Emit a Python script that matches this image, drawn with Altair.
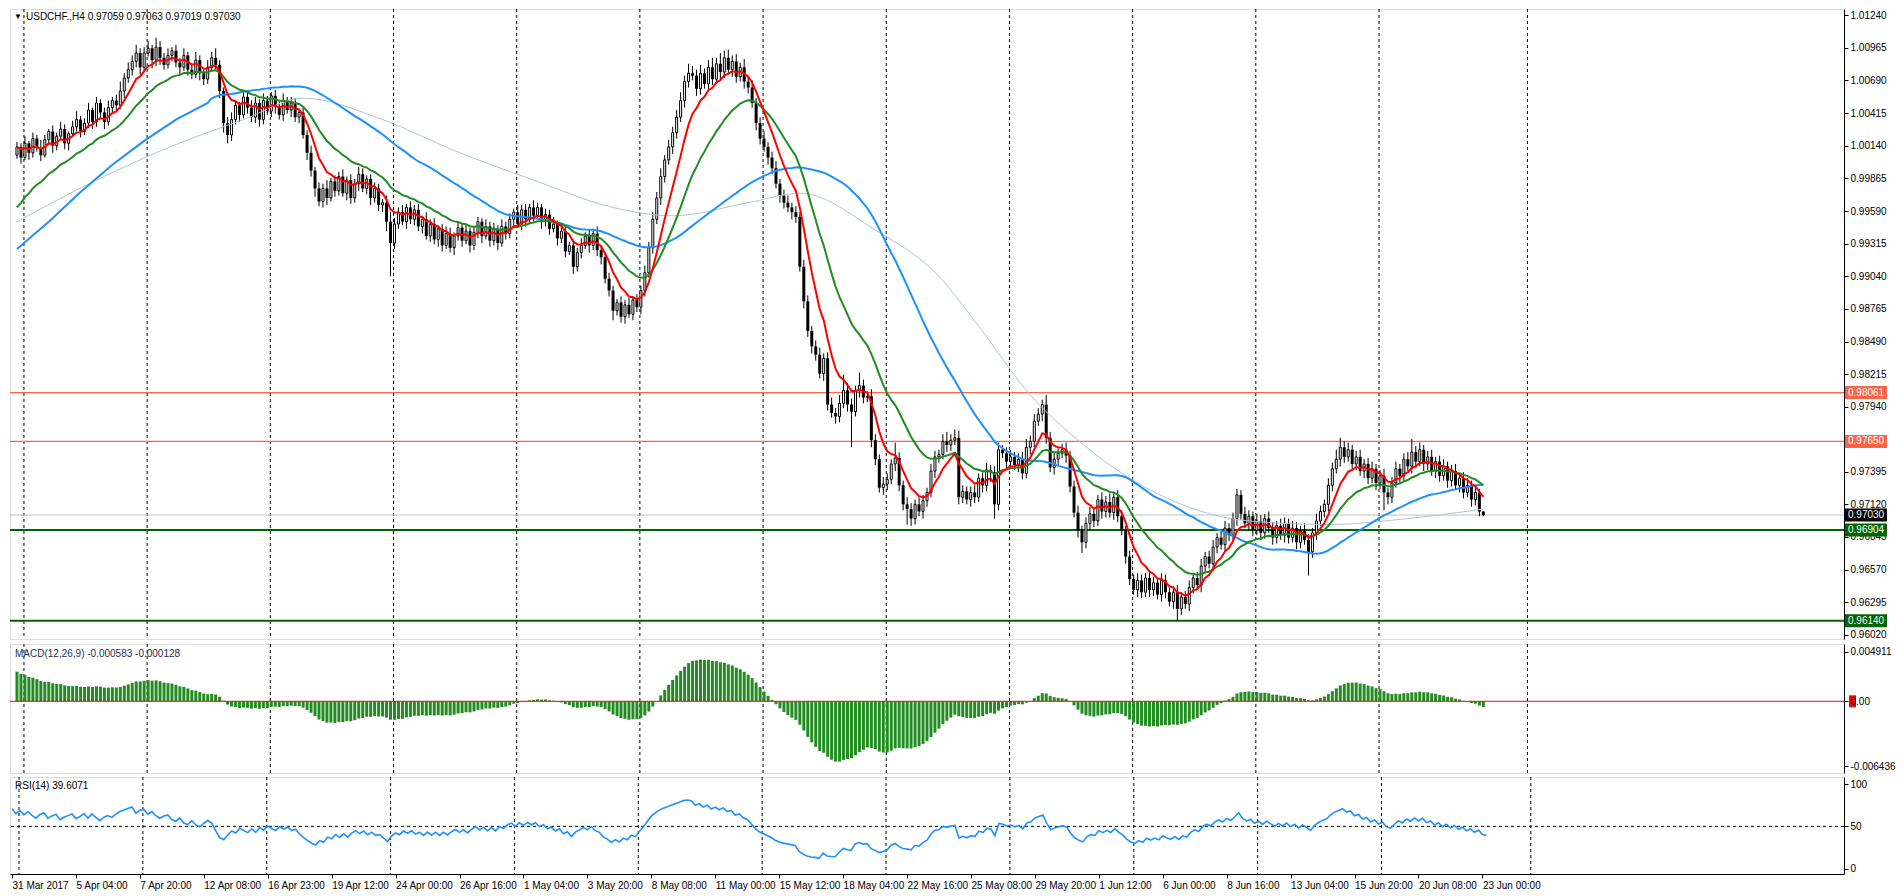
import json
import altair as alt
import numpy as np
import pandas as pd

# ---------------- data (prices in pips, 1 pip = 0.0001) ----------------
close = [
10013, 10004, 10016, 10008, 10020, 10012, 10006, 10019, 10026, 10014,
10022, 10028, 10016, 10024, 10030, 10036, 10026, 10033, 10044, 10034,
10050, 10042, 10034, 10046, 10052, 10048, 10060, 10071, 10078, 10085,
10092, 10080, 10092, 10096, 10086, 10097, 10088, 10082, 10090, 10094,
10084, 10080, 10090, 10078, 10074, 10086, 10075, 10070, 10080, 10088,
10082, 10060, 10033, 10023, 10036, 10048, 10040, 10055, 10046, 10038,
10050, 10036, 10052, 10043, 10056, 10047, 10040, 10052, 10044, 10050,
10038, 10042, 10023, 10008, 9993, 9978, 9967, 9978, 9970, 9984,
9976, 9988, 9974, 9985, 9970, 9982, 9990, 9978, 9986, 9970,
9978, 9964, 9966, 9950, 9932, 9948, 9958, 9950, 9962, 9952,
9960, 9946, 9952, 9938, 9948, 9935, 9944, 9930, 9940, 9928,
9938, 9945, 9934, 9942, 9930, 9941, 9950, 9938, 9946, 9934,
9944, 9932, 9946, 9940, 9952, 9958, 9948, 9960, 9952, 9962,
9955, 9962, 9950, 9956, 9944, 9948, 9936, 9942, 9925, 9930,
9912, 9924, 9930, 9938, 9930, 9940, 9926, 9920, 9902, 9892,
9875, 9882, 9870, 9880, 9872, 9884, 9878, 9892, 9907, 9928,
9952, 9970, 9988, 10002, 10013, 10025, 10038, 10052, 10068, 10075,
10073, 10062, 10075, 10066, 10080, 10070, 10083, 10076, 10088, 10078,
10085, 10072, 10080, 10068, 10063, 10050, 10033, 10020, 10013, 10004,
9995, 9982, 9972, 9966, 9962, 9958, 9954, 9912, 9883, 9858,
9845, 9838, 9822, 9835, 9796, 9789, 9786, 9797, 9808, 9796,
9790, 9808, 9812, 9802, 9803, 9766, 9750, 9726, 9729, 9733,
9746, 9751, 9728, 9712, 9708, 9700, 9712, 9706, 9715, 9722,
9740, 9752, 9754, 9765, 9762, 9766, 9768, 9718, 9723, 9716,
9722, 9718, 9734, 9728, 9741, 9739, 9712, 9758, 9755, 9748,
9752, 9745, 9750, 9738, 9760, 9765, 9782, 9788, 9796, 9768,
9743, 9750, 9755, 9758, 9753, 9727, 9705, 9690, 9680, 9696,
9704, 9698, 9716, 9706, 9714, 9705, 9718, 9702, 9690, 9668,
9649, 9640, 9648, 9638, 9650, 9640, 9646, 9636, 9648, 9638,
9630, 9638, 9624, 9634, 9628, 9642, 9650, 9644, 9660, 9668,
9662, 9676, 9684, 9678, 9692, 9686, 9700, 9720, 9704, 9696,
9702, 9690, 9698, 9688, 9700, 9692, 9684, 9694, 9686, 9696,
9684, 9692, 9680, 9690, 9682, 9672, 9688, 9698, 9706, 9712,
9728, 9742, 9750, 9760, 9752, 9758, 9746, 9752, 9740, 9746,
9734, 9742, 9730, 9736, 9722, 9718, 9730, 9742, 9736, 9750,
9744, 9756, 9748, 9758, 9746, 9752, 9740, 9748, 9736, 9744,
9732, 9740, 9728, 9734, 9722, 9728, 9716, 9722, 9705.9, 9703.0]

wick_up = [
4, 3, 6, 2, 5, 3, 7, 4, 2, 5,
3, 6, 4, 2, 5, 7, 3, 4, 6, 2,
5, 3, 4, 6, 3, 5, 8, 4, 6, 5,
7, 4, 5, 6, 3, 8, 5, 4, 6, 3,
5, 4, 6, 3, 5, 7, 4, 3, 6, 5,
8, 4, 3, 5, 6, 4, 3, 5, 4, 6,
5, 3, 6, 4, 3, 5, 4, 6, 3, 5,
4, 3, 5, 4, 6, 3, 5, 4, 7, 3,
5, 4, 6, 3, 5, 4, 6, 5, 3, 4,
5, 4, 3, 6, 8, 5, 4, 6, 3, 5,
4, 5, 3, 6, 4, 5, 3, 4, 6, 5,
3, 5, 4, 6, 3, 5, 4, 3, 6, 4,
5, 3, 6, 4, 5, 3, 6, 4, 5, 3,
6, 4, 3, 5, 4, 6, 3, 5, 4, 3,
5, 4, 6, 3, 5, 4, 6, 3, 4, 5,
4, 3, 5, 4, 6, 3, 5, 4, 6, 5,
6, 5, 7, 4, 6, 5, 6, 7, 5, 8,
6, 5, 7, 4, 6, 8, 5, 9, 6, 7,
5, 6, 4, 7, 5, 6, 4, 5, 6, 4,
5, 6, 4, 5, 6, 4, 5, 4, 6, 5,
4, 5, 6, 4, 5, 6, 4, 7, 13, 6,
5, 4, 11, 5, 4, 6, 5, 4, 6, 5,
4, 13, 5, 4, 6, 5, 4, 6, 5, 4,
6, 5, 4, 6, 8, 5, 7, 6, 5, 4,
5, 6, 4, 5, 6, 4, 5, 6, 4, 5,
6, 4, 5, 6, 7, 5, 6, 5, 4, 8,
5, 6, 4, 5, 6, 4, 5, 6, 4, 5,
6, 5, 4, 6, 5, 7, 4, 6, 5, 4,
5, 4, 6, 5, 4, 6, 5, 4, 6, 5,
4, 5, 6, 4, 5, 6, 4, 5, 6, 4,
5, 6, 4, 5, 6, 4, 5, 5, 4, 6,
5, 4, 6, 5, 4, 6, 5, 4, 6, 5,
4, 6, 5, 4, 6, 5, 4, 6, 5, 4,
6, 5, 8, 8, 5, 6, 4, 5, 6, 4,
5, 6, 4, 5, 6, 4, 5, 6, 4, 5,
6, 11, 5, 6, 4, 5, 6, 4, 5, 6,
4, 5, 6, 4, 5, 6, 4, 5, 3, 0.4]

wick_dn = [
3, 5, 2, 6, 4, 3, 5, 2, 4, 6,
4, 3, 5, 6, 2, 4, 5, 3, 4, 6,
4, 5, 6, 3, 5, 4, 3, 6, 4, 5,
5, 6, 4, 3, 7, 5, 6, 4, 3, 5,
4, 6, 3, 5, 4, 3, 6, 5, 4, 3,
4, 6, 8, 7, 5, 4, 6, 3, 5, 4,
5, 6, 4, 3, 5, 6, 4, 5, 3, 6,
4, 5, 3, 6, 5, 7, 4, 5, 6, 3,
5, 4, 3, 6, 5, 4, 6, 3, 5, 6,
4, 5, 6, 8, 28, 5, 4, 3, 6, 4,
5, 4, 6, 3, 5, 4, 6, 5, 3, 4,
6, 4, 5, 3, 6, 4, 5, 6, 3, 5,
4, 6, 3, 5, 4, 6, 3, 5, 6, 4,
5, 3, 6, 4, 5, 3, 6, 4, 5, 3,
6, 4, 5, 3, 6, 4, 5, 6, 4, 5,
8, 4, 5, 6, 3, 5, 4, 6, 5, 4,
5, 4, 6, 5, 4, 6, 5, 4, 6, 5,
4, 6, 5, 4, 6, 5, 4, 6, 5, 4,
6, 5, 4, 6, 5, 4, 6, 5, 4, 6,
5, 4, 6, 5, 4, 6, 5, 4, 6, 5,
6, 5, 4, 6, 5, 4, 6, 5, 4, 6,
30, 4, 6, 5, 4, 6, 5, 4, 6, 5,
4, 6, 5, 5, 13, 6, 5, 4, 6, 5,
4, 6, 5, 4, 6, 5, 4, 6, 5, 4,
6, 5, 4, 6, 5, 8, 12, 5, 4, 6,
5, 4, 6, 5, 4, 6, 5, 4, 6, 5,
4, 6, 5, 4, 6, 5, 4, 6, 9, 5,
6, 5, 4, 6, 5, 4, 6, 5, 4, 6,
5, 4, 6, 5, 4, 6, 5, 4, 6, 5,
4, 6, 10, 5, 4, 6, 5, 4, 6, 5,
4, 6, 5, 4, 6, 5, 4, 6, 5, 4,
6, 5, 4, 6, 5, 4, 6, 5, 4, 6,
5, 4, 6, 5, 4, 20, 5, 6, 4, 5,
6, 5, 4, 6, 5, 4, 6, 5, 4, 6,
5, 4, 6, 5, 15, 6, 5, 4, 6, 5,
4, 6, 5, 4, 6, 5, 4, 6, 5, 4,
6, 5, 4, 6, 5, 4, 6, 5, 4, 1.1]

open_first = 10006

# moving-average values
blue_head_bar = [0, 8, 16, 24, 32, 40, 48]
blue_head_val = [9927, 9950, 9975, 9998, 10018, 10036, 10050]
light_bar = [0, 20, 40, 57, 72, 92, 110, 130, 150, 165, 184, 197, 216, 232, 242, 255,
             267, 281, 293, 310, 330, 350, 369]
light_val = [9950, 9985, 10015, 10036, 10054, 10036, 10010, 9985, 9962, 9955, 9966, 9974,
             9943, 9904, 9862, 9804, 9766, 9732, 9712, 9698, 9695, 9700, 9708]
green_start = 9957
ema12_start, ema26_start = 10004, 9973
rsi_gain_start, rsi_loss_start = 5.5, 2.5

time_labels = ["31 Mar 2017", "5 Apr 04:00", "7 Apr 20:00", "12 Apr 08:00", "16 Apr 23:00",
               "19 Apr 12:00", "24 Apr 00:00", "26 Apr 16:00", "1 May 04:00", "3 May 20:00",
               "8 May 08:00", "11 May 00:00", "15 May 12:00", "18 May 04:00", "22 May 16:00",
               "25 May 08:00", "29 May 20:00", "1 Jun 12:00", "6 Jun 00:00", "8 Jun 16:00",
               "13 Jun 04:00", "15 Jun 20:00", "20 Jun 08:00", "23 Jun 00:00"]
label_step = 16
week_start_bars = [1.75, 32.75, 63.75, 94.75, 125.75, 156.75, 187.75, 218.75,
                   249.75, 280.75, 311.75, 342.75, 380.1]

price_ticks = [1.01240, 1.00965, 1.00690, 1.00415, 1.00140, 0.99865, 0.99590, 0.99315,
               0.99040, 0.98765, 0.98490, 0.98215, 0.97940, 0.97395, 0.97120, 0.96845,
               0.96570, 0.96295, 0.96020]
level_prices = [0.98061, 0.97650, 0.96904, 0.96140]
level_colors = ["#FF6347", "#FF6347", "#006400", "#006400"]
bid_price = 0.97030
header_text = "USDCHF.,H4  0.97059 0.97063 0.97019 0.97030"
macd_text = "MACD(12,26,9) -0.000583 -0.000128"
rsi_text = "RSI(14) 39.6071"
macd_ticks = [0.004911, 0.0, -0.006436]
rsi_ticks = [100, 50, 0]

# ---------------- derived series ----------------
n = min(len(close), len(wick_up), len(wick_dn))
c = np.array(close[:n], dtype=float)
o = np.concatenate([[open_first], c[:-1]])
hi = np.maximum(o, c) + np.array(wick_up[:n], dtype=float)
lo = np.minimum(o, c) - np.array(wick_dn[:n], dtype=float)


def ema(x, period, start):
    a = 2.0 / (period + 1)
    e = start
    out = []
    for v in x:
        e = e + a * (v - e)
        out.append(e)
    return np.array(out)


red = ema(c, 8, c[0])
green = ema(c, 21, green_start)
sma50 = np.array([c[i - 49:i + 1].mean() if i >= 49 else np.nan for i in range(n)])
macd = (ema(c, 12, ema12_start) - ema(c, 26, ema26_start)) / 10000.0

ag, al = rsi_gain_start, rsi_loss_start
rsi = []
prev = open_first
for v in c:
    d = v - prev
    prev = v
    ag = (ag * 13 + max(d, 0)) / 14
    al = (al * 13 + max(-d, 0)) / 14
    rsi.append(100 - 100 / (1 + ag / al))

S = 10000.0
bars = pd.DataFrame({
    "i": np.arange(n), "o": o / S, "c": c / S, "h": hi / S, "l": lo / S,
    "red": red / S, "green": green / S, "macd": macd, "rsi": rsi,
})
bars["top"] = np.maximum(bars["o"], bars["c"])
bars["bot"] = np.minimum(bars["o"], bars["c"])
bars["bull"] = bars["c"] >= bars["o"]

blue_df = pd.concat([
    pd.DataFrame({"i": blue_head_bar, "v": np.array(blue_head_val) / S}),
    pd.DataFrame({"i": np.arange(49, n), "v": sma50[49:] / S}),
])
light_df = pd.DataFrame({"i": light_bar, "v": np.array(light_val) / S})

grid_df = pd.DataFrame({"g": week_start_bars})
lv = pd.DataFrame({"p": level_prices, "col": level_colors})
lab_df = pd.DataFrame({
    "p": level_prices + [bid_price],
    "col": level_colors + ["#000000"],
    "t": [f"{p:.5f}" for p in level_prices + [bid_price]],
})

# ---------------- layout ----------------
W = 1834
H1, H2, H3 = 630, 129, 97
XDOM = [-0.5, 458.5]
PDOM = [0.95986, 1.01291]
MDOM = [-0.007099, 0.005673]
RDOM = [-6.2, 108.3]
FONT = "Liberation Sans"

xs = alt.Scale(domain=XDOM, nice=False, zero=False)
ps = alt.Scale(domain=PDOM, nice=False, zero=False)
ms = alt.Scale(domain=MDOM, nice=False, zero=False)
rs = alt.Scale(domain=RDOM, nice=False, zero=False)

yaxis_common = dict(orient="right", grid=False, tickSize=4, labelPadding=2, title=None,
                    labelFont=FONT, labelFontSize=10, labelColor="black",
                    tickColor="black", domainColor="black", labelOverlap=False)
paxis = alt.Axis(values=price_ticks, format=".5f", **yaxis_common)
maxis = alt.Axis(values=macd_ticks, zindex=1,
                 labelExpr="datum.value > 0.001 ? '0.004911' : (datum.value < -0.001 ? '-0.006436' : '0.00')",
                 **yaxis_common)
raxis = alt.Axis(values=rsi_ticks, format="d", **yaxis_common)
xaxis = alt.Axis(values=list(range(0, label_step * len(time_labels), label_step)),
                 labelExpr=json.dumps(time_labels) + "[round(datum.value/%d)]" % label_step,
                 labelAlign="left", labelBaseline="top", labelPadding=2,
                 tickSize=4, grid=False, title=None, labelFlush=False, labelOverlap=False,
                 labelFont=FONT, labelFontSize=10, labelColor="black",
                 tickColor="black", domainColor="black")


def X(f, axis=None):
    return alt.X(f, type="quantitative", scale=xs, axis=axis, title=None)


def Yp(f):
    return alt.Y(f, type="quantitative", scale=ps, axis=paxis, title=None)


def grid_layer(axis=None):
    return alt.Chart(grid_df).mark_rule(color="black", strokeWidth=1, strokeDash=[3, 3]).encode(x=X("g", axis))


# main panel
g1 = grid_layer()
lvl = alt.Chart(lv[lv.col != "#006400"]).mark_rule(strokeWidth=1.2, color="#FF6347").encode(y=Yp("p"))
lvl_g = alt.Chart(lv[lv.col == "#006400"]).mark_rule(strokeWidth=2, color="#006400").encode(y=Yp("p"))
bidl = alt.Chart(pd.DataFrame({"p": [bid_price]})).mark_rule(color="#C0C0C0", strokeWidth=1).encode(y=Yp("p"))
wick = alt.Chart(bars).mark_rule(color="black", strokeWidth=1).encode(x=X("i"), y=Yp("l"), y2="h")
bull = alt.Chart(bars[bars.bull]).mark_bar(size=2, fill="white", stroke="black", strokeWidth=1).encode(
    x=X("i"), y=Yp("bot"), y2="top")
bear = alt.Chart(bars[~bars.bull]).mark_bar(size=3, fill="black").encode(x=X("i"), y=Yp("bot"), y2="top")
l_light = alt.Chart(light_df).mark_line(color="#B0C4DE", strokeWidth=1, interpolate="monotone").encode(
    x=X("i"), y=Yp("v"))
l_blue = alt.Chart(blue_df).mark_line(color="#1E90FF", strokeWidth=2).encode(x=X("i"), y=Yp("v"))
l_green = alt.Chart(bars).mark_line(color="#228B22", strokeWidth=2).encode(x=X("i"), y=Yp("green"))
l_red = alt.Chart(bars).mark_line(color="#FF0000", strokeWidth=2).encode(x=X("i"), y=Yp("red"))
dh = 6.5 * (PDOM[1] - PDOM[0]) / H1
boxes = alt.Chart(lab_df).transform_calculate(
    y1=f"datum.p + {dh}", y2=f"datum.p - {dh}").mark_rect().encode(
    x=alt.value(W + 1), x2=alt.value(W + 43), y=Yp("y1:Q"), y2="y2:Q",
    color=alt.Color("col:N", scale=None))
box_t = alt.Chart(lab_df).mark_text(align="left", baseline="middle", color="white",
                                    font=FONT, fontSize=10).encode(
    x=alt.value(W + 4), y=Yp("p"), text="t:N")
tri = alt.Chart(pd.DataFrame({"t": ["\u25BC"]})).mark_text(align="center", baseline="middle",
                                                          fontSize=8, color="black").encode(
    x=alt.value(8), y=alt.value(8), text="t:N")
head = alt.Chart(pd.DataFrame({"t": [header_text]})).mark_text(
    align="left", baseline="middle", font=FONT, fontSize=10, color="black").encode(
    x=alt.value(16), y=alt.value(8), text="t:N")

main = alt.layer(g1, bidl, lvl, lvl_g, wick, bull, bear, l_light, l_blue, l_green, l_red,
                 boxes, box_t, tri, head).properties(width=W, height=H1)

# MACD panel
g2 = grid_layer()
hist = alt.Chart(bars).mark_bar(size=3, color="#228B22", clip=True).encode(
    x=X("i"), y=alt.Y("macd:Q", scale=ms, axis=maxis, title=None), y2=alt.datum(0))
zero = alt.Chart(pd.DataFrame({"v": [0.0]})).mark_rule(color="#FF0000", strokeWidth=1).encode(
    y=alt.Y("v:Q", scale=ms, axis=maxis, title=None))
dm = 6.0 * (MDOM[1] - MDOM[0]) / H2
zbox = alt.Chart(pd.DataFrame({"v": [0.0]})).transform_calculate(
    a=f"datum.v + {dm}", b=f"datum.v - {dm}").mark_rect(color="#FF0000").encode(
    x=alt.value(W + 5), x2=alt.value(W + 12),
    y=alt.Y("a:Q", scale=ms, axis=maxis, title=None), y2="b:Q")
mtxt = alt.Chart(pd.DataFrame({"t": [macd_text]})).mark_text(
    align="left", baseline="middle", font=FONT, fontSize=10, color="#1F2F4F").encode(
    x=alt.value(5), y=alt.value(10), text="t:N")
macd_panel = alt.layer(g2, hist, zero, zbox, mtxt).properties(width=W, height=H2)

# RSI panel
g3 = grid_layer(xaxis)
r50 = alt.Chart(pd.DataFrame({"v": [50]})).mark_rule(color="black", strokeDash=[3, 3]).encode(
    y=alt.Y("v:Q", scale=rs, axis=raxis, title=None))
rline = alt.Chart(bars).mark_line(color="#1E90FF", strokeWidth=1.6).encode(
    x=X("i", xaxis), y=alt.Y("rsi:Q", scale=rs, axis=raxis, title=None))
rtxt = alt.Chart(pd.DataFrame({"t": [rsi_text]})).mark_text(
    align="left", baseline="middle", font=FONT, fontSize=10, color="black").encode(
    x=alt.value(5), y=alt.value(9), text="t:N")
rsi_panel = alt.layer(g3, r50, rline, rtxt).properties(width=W, height=H3)

chart = alt.vconcat(main, macd_panel, rsi_panel, spacing=2).properties(
    padding={"left": 0, "top": 0, "right": 0, "bottom": 0}
).configure_view(stroke="black", strokeWidth=1).configure(background="white")

chart.save("out.html", embed_options={"renderer": "svg", "actions": False})
